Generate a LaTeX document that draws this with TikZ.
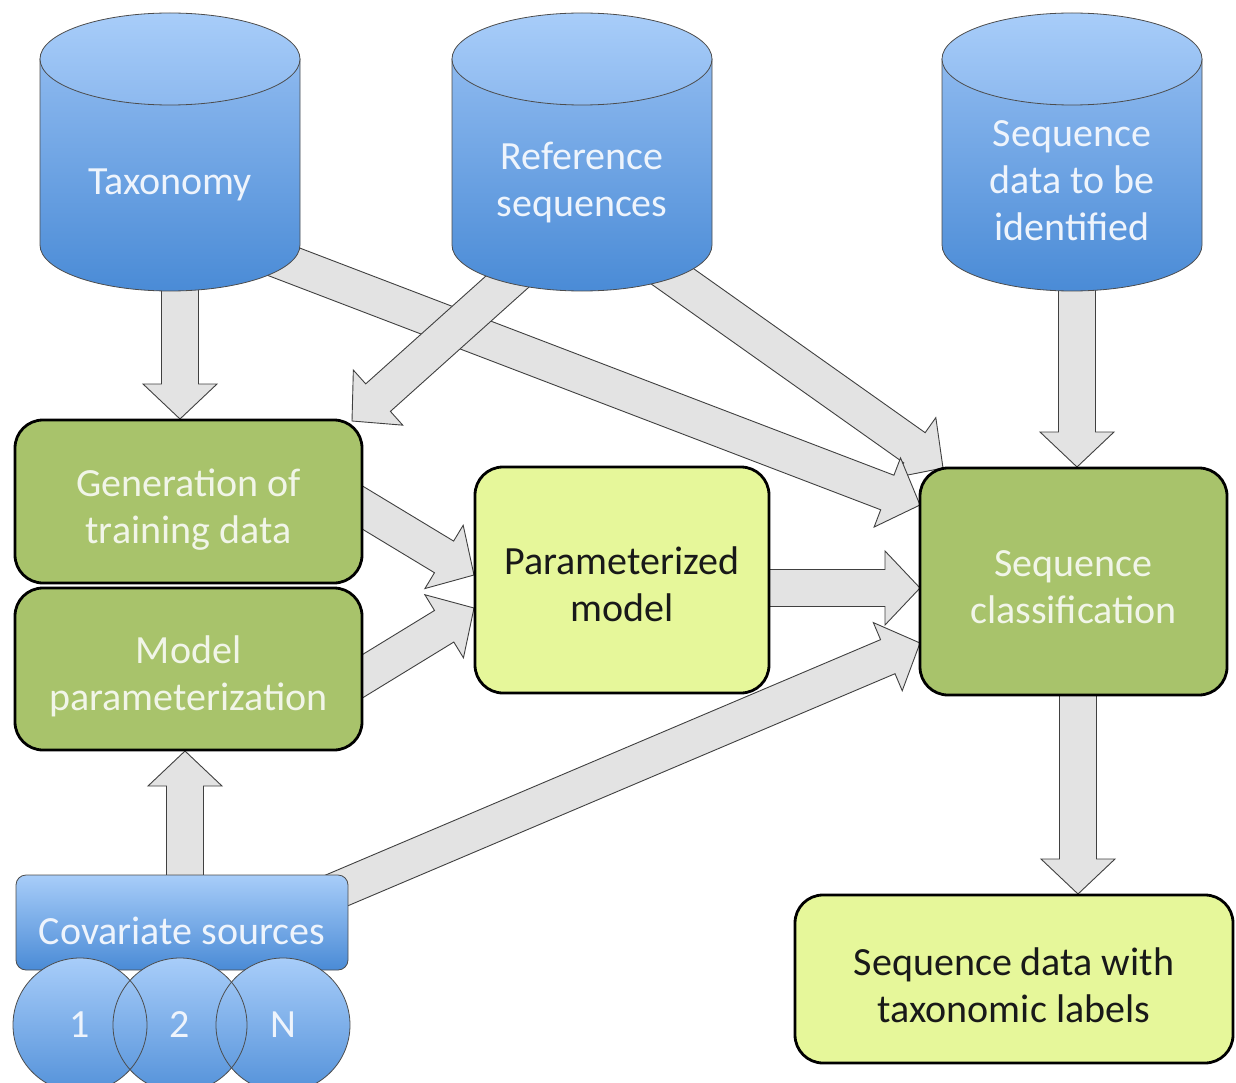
\documentclass[tikz,border=0pt]{standalone}
\usepackage{fontspec}
\setmainfont{Carlito}
\usetikzlibrary{calc}
\definecolor{cylTop}{HTML}{A8CDF9}
\definecolor{cylMid}{HTML}{8DB9EF}
\definecolor{cylBot}{HTML}{4A8BD6}
\definecolor{greenBox}{HTML}{A8C36B}
\definecolor{lightBox}{HTML}{E6F79A}
\definecolor{arrowFill}{HTML}{E3E3E3}
\definecolor{cylText}{HTML}{EEF4FC}
\definecolor{greenText}{HTML}{F1F5E8}
\tikzset{
  blockarrow/.style={draw=black!75, line width=0.9pt, fill=arrowFill, line join=miter},
  lbl/.style={font=\fontsize{40}{47}\selectfont, align=center, inner sep=0pt},
  greenbox/.style={draw=black, line width=2.8pt, fill=greenBox, rounded corners=28pt, inner sep=0pt},
  lightbox/.style={draw=black, line width=2.8pt, fill=lightBox, rounded corners=28pt, inner sep=0pt},
  greentext/.style={lbl, text=greenText},
  lighttext/.style={lbl, text=black!90},
  cyltext/.style={lbl, text=cylText},
  cylline/.style={draw=black!70, line width=0.8pt},
}
% block arrow from #1 (tail) to #2 (tip)
\newcommand\barrow[2]{%
  \coordinate (hb) at ($(#2)!35pt!(#1)$);
  \draw[blockarrow] ($(#1)!18.5pt!90:(#2)$) -- ($(hb)!18.5pt!-90:(#1)$) -- ($(hb)!37pt!-90:(#1)$)
    -- (#2) -- ($(hb)!37pt!90:(#1)$) -- ($(hb)!18.5pt!90:(#1)$) -- ($(#1)!18.5pt!-90:(#2)$) -- cycle;
}
% database cylinder centred at x = #1
\newcommand\dbcyl[1]{%
  \draw[cylline, top color=cylMid, bottom color=cylBot]
    (#1-130,59) -- (#1-130,245)
    .. controls (#1-130,270.4) and (#1-71.8,291) .. (#1,291)
    .. controls (#1+71.8,291) and (#1+130,270.4) .. (#1+130,245)
    -- (#1+130,59) -- cycle;
  \draw[cylline, top color=cylTop, bottom color=cylMid] (#1,59) ellipse [x radius=130, y radius=46];
}
\begin{document}
\begin{tikzpicture}[x=1pt, y=-1pt]
\useasboundingbox (0,0) rectangle (1236,1083);

% arrow end points
\coordinate (t1) at (180,270);  \coordinate (h1) at (180,419);
\coordinate (t2) at (240,245);  \coordinate (h2) at (920,505);
\coordinate (t3) at (527,264);  \coordinate (h3) at (352,421);
\coordinate (t4) at (655,264);  \coordinate (h4) at (943,468);
\coordinate (t5) at (1077,270); \coordinate (h5) at (1077,467);
\coordinate (t6) at (340,494);  \coordinate (h6) at (474,575);
\coordinate (t7) at (340,690);  \coordinate (h7) at (474,608);
\coordinate (t8) at (750,588);  \coordinate (h8) at (920,588);
\coordinate (t9) at (300,906);  \coordinate (h9) at (920,643);
\coordinate (t10) at (185,880); \coordinate (h10) at (185,751);
\coordinate (t11) at (1078,680);\coordinate (h11) at (1078,894);

% arrows (drawn below the shapes)
\barrow{t1}{h1}
\barrow{t4}{h4}
\barrow{t2}{h2}
\barrow{t3}{h3}
\barrow{t5}{h5}
\barrow{t6}{h6}
\barrow{t7}{h7}
\barrow{t8}{h8}
\barrow{t9}{h9}
\barrow{t10}{h10}
\barrow{t11}{h11}

% databases
\dbcyl{170}
\dbcyl{582}
\dbcyl{1072}
\node[cyltext] (tax) at (170,185) {Taxonomy};
\node[cyltext] (ref) at (582,183) {Reference\\sequences};
\node[cyltext] (seq) at (1072,181) {Sequence\\data to be\\identified};

% process boxes
\node[greenbox, minimum width=347pt, minimum height=163pt] (gen) at (188.5,501.5) {};
\node[greentext] (gentext) at (188.5,510) {Generation of\\training data};
\node[greenbox, minimum width=347pt, minimum height=162pt] (mp) at (188.5,669) {};
\node[greentext] (mptext) at (188.5,676) {Model\\parameterization};
\node[lightbox, minimum width=294pt, minimum height=226pt] (pm) at (622,580) {};
\node[lighttext] (pmtext) at (622,584) {Parameterized\\model};
\node[greenbox, minimum width=307pt, minimum height=227pt] (cls) at (1073.5,581.5) {};
\node[greentext] (clstext) at (1073.5,587) {Sequence\\classification};
\node[lightbox, minimum width=438pt, minimum height=168pt] (lab) at (1014,979) {};
\node[lighttext] (labtext) at (1014,985) {Sequence data with\\taxonomic labels};

% covariate sources
\node[cylline, rounded corners=10pt, top color=cylTop, bottom color=cylBot,
      minimum width=332pt, minimum height=95pt, inner sep=0pt] (cov) at (182,922.5) {};
\node[cyltext] (covtext) at (182,931) {Covariate sources};
\node[lbl, circle, minimum size=134pt, top color=cylTop, bottom color=cylBot!85!cylMid, text=cylText] (c1) at (80,1025) {1};
\node[lbl, circle, minimum size=134pt, top color=cylTop, bottom color=cylBot!85!cylMid, text=cylText] (c2) at (180,1025) {2};
\node[lbl, circle, minimum size=134pt, top color=cylTop, bottom color=cylBot!85!cylMid, text=cylText] (cN) at (283,1025) {N};
\draw[cylline] (c1.center) circle [radius=67];
\draw[cylline] (c2.center) circle [radius=67];
\draw[cylline] (cN.center) circle [radius=67];
\end{tikzpicture}
\end{document}
